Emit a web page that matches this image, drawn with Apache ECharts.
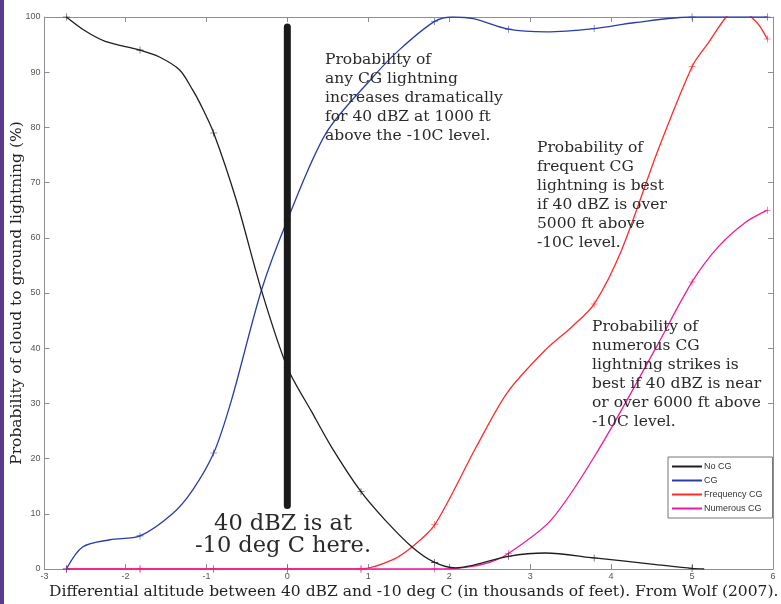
<!DOCTYPE html>
<html>
<head>
<meta charset="utf-8">
<script src="https://cdn.jsdelivr.net/npm/echarts@6/dist/echarts.min.js"></script>
<style>
html,body{margin:0;padding:0;background:#fff;}
#chart{width:781px;height:604px;}
</style>
</head>
<body>
<div id="chart"></div>
<script>
// ---- data (x in thousands of feet, y in %) ----
const seriesNames = ['No CG', 'CG', 'Frequency CG', 'Numerous CG'];

const noCgX = [-2.73, -2.5, -2.25, -1.82, -1.58, -1.33, -1.17, -1.08, -0.91, -0.63, -0.32, 0, 0.3, 0.55, 0.91, 1.2, 1.54, 1.82, 2.08, 2.73, 3.19, 3.79, 4.5, 5.0, 5.15];
const noCgY = [100, 97.5, 95.6, 94, 92.75, 90.4, 86.8, 84.4, 79, 66.8, 50.5, 36.5, 28.5, 22, 14, 9, 4, 1.2, 0.2, 2.3, 2.9, 2.0, 0.9, 0.1, 0];

const cgX = [-2.73, -2.53, -2.19, -1.82, -1.42, -1.17, -0.91, -0.69, -0.32, 0, 0.48, 1.05, 1.38, 1.82, 2.05, 2.3, 2.73, 3.2, 3.79, 4.3, 5.0, 5.93];
const cgY = [0, 4, 5.3, 6, 10, 14.3, 21, 30.6, 50.5, 63.2, 79, 89, 94, 99.2, 100, 99.7, 97.8, 97.3, 97.9, 99, 100, 100];

const freqX = [-2.73, -1.82, -0.91, 0, 0.91, 1.29, 1.54, 1.82, 2.33, 2.72, 3.19, 3.51, 3.79, 4.13, 4.58, 5.0, 5.16, 5.57, 5.8, 5.93];
const freqY = [0, 0, 0, 0, 0, 1.6, 4, 8, 22, 32, 39.7, 43.8, 48, 57.8, 75.9, 91, 94.5, 101.5, 99, 96];

const numX = [-2.73, -1.82, -0.91, 0, 0.91, 1.82, 2.2, 2.5, 2.73, 3.26, 3.84, 4.54, 5.0, 5.32, 5.65, 5.93];
const numY = [0, 0, 0, 0, 0, 0, 0.3, 1.2, 2.8, 8.9, 21.5, 39.7, 52, 58.3, 62.7, 65];

// x positions where '+' markers are drawn
const markX = [-2.73, -1.82, -0.91, 0, 0.91, 1.82, 2.73, 3.79, 5.0, 5.93];

// thick reference line at 0 (40 dBZ at -10 C)
const refLineX = [0, 0];
const refLineY = [11.5, 98.2];

const xMin = -3, xMax = 6, xStep = 1;
const yMin = 0, yMax = 100, yStep = 10;

const colors = ['#1e1e1e', '#2a3ca8', '#ff2a2a', '#f01a9a'];

const annotations = [
  {text: 'Probability of\nany CG lightning\nincreases dramatically\nfor 40 dBZ at 1000 ft\nabove the -10C level.', x: 325, y: 50},
  {text: 'Probability of\nfrequent CG\nlightning is best\nif 40 dBZ is over\n5000 ft above\n-10C level.', x: 537, y: 138},
  {text: 'Probability of\nnumerous CG\nlightning strikes is\nbest if 40 dBZ is near\nor over 6000 ft above\n-10C level.', x: 592, y: 317}
];
const bigNote = '40 dBZ is at\n-10 deg C here.';

// ---- build ----
const plus = 'path://M0,4.6L10,4.6L10,5.4L0,5.4Z M4.6,0L5.4,0L5.4,10L4.6,10Z';
function build(xs, ys) {
  return xs.map((x, i) => {
    const marked = markX.some(m => Math.abs(m - x) < 1e-6);
    return marked ? {value: [x, ys[i]]} : {value: [x, ys[i]], symbol: 'none'};
  });
}
const rawData = [[noCgX, noCgY], [cgX, cgY], [freqX, freqY], [numX, numY]];
const order = [2, 3, 1, 0]; // draw order: red, magenta, blue, black
const series = order.map(k => ({
  name: seriesNames[k],
  type: 'line',
  data: build(rawData[k][0], rawData[k][1]),
  smooth: 0.3,
  symbol: plus,
  symbolSize: 7,
  showSymbol: true,
  lineStyle: {color: colors[k], width: 1.3},
  itemStyle: {color: colors[k], borderWidth: 0},
  clip: true,
  z: 3,
  emphasis: {disabled: true},
  animation: false
}));
series.push({
  name: 'ref',
  type: 'line',
  data: refLineX.map((x, i) => [x, refLineY[i]]),
  symbol: 'none',
  lineStyle: {color: '#1a1a1a', width: 7, cap: 'round'},
  z: 4,
  silent: true,
  animation: false
});

const chart = echarts.init(document.getElementById('chart'), null, {renderer: 'canvas'});
const axisCol = '#8c8f96';
const serif = '"DejaVu Serif", "Liberation Serif", serif';
const sans = '"Liberation Sans", Arial, sans-serif';

const graphics = [
  {type: 'rect', shape: {x: 0, y: 0, width: 4, height: 604}, style: {fill: '#5a3a8a'}, silent: true}
];
annotations.forEach(a => graphics.push({
  type: 'text', left: a.x, top: a.y, z: 10,
  style: {text: a.text, font: '15.5px ' + serif, fill: '#2a2a2a', lineHeight: 19}
}));
graphics.push({
  type: 'text', x: 283, y: 513, z: 10,
  style: {text: bigNote, font: '22.5px ' + serif, fill: '#2a2a2a', lineHeight: 22, align: 'center'}
});

const axisBase = {
  type: 'value',
  axisLine: {show: true, onZero: false, lineStyle: {color: axisCol, width: 1}},
  axisTick: {show: true, inside: true, length: 5, lineStyle: {color: axisCol}},
  splitLine: {show: false}
};

chart.setOption({
  backgroundColor: '#fff',
  animation: false,
  grid: {left: 44.5, right: 8, top: 17, bottom: 35, containLabel: false, outerBoundsMode: 'none'},
  legend: {
    data: seriesNames,
    orient: 'vertical',
    left: 668, top: 457,
    padding: [5, 10, 5, 4],
    itemGap: 5,
    itemWidth: 30,
    itemHeight: 2,
    icon: 'rect',
    borderColor: '#777',
    borderWidth: 1,
    borderRadius: 0,
    backgroundColor: '#fff',
    textStyle: {fontFamily: sans, fontSize: 9, color: '#333', padding: [0, 0, 0, -3]},
    selectedMode: false
  },
  xAxis: [Object.assign({}, axisBase, {
    min: xMin, max: xMax, interval: xStep,
    position: 'bottom',
    name: 'Differential altitude between 40 dBZ and -10 deg C (in thousands of feet). From Wolf (2007).',
    nameLocation: 'middle', nameGap: 15, nameMoveOverlap: false,
    nameTextStyle: {fontFamily: serif, fontSize: 15.5, color: '#222', padding: [0, 0, 0, 10], verticalAlign: 'top'},
    axisLabel: {fontFamily: sans, fontSize: 9, color: '#555', margin: 3}
  }), Object.assign({}, axisBase, {
    min: xMin, max: xMax, interval: xStep,
    position: 'top',
    axisLabel: {show: false}
  })],
  yAxis: [Object.assign({}, axisBase, {
    min: yMin, max: yMax, interval: yStep,
    position: 'left',
    name: 'Probability of cloud to ground lightning (%)',
    nameLocation: 'middle', nameGap: 20, nameMoveOverlap: false,
    nameTextStyle: {fontFamily: serif, fontSize: 15.5, color: '#222'},
    axisLabel: {fontFamily: sans, fontSize: 9, color: '#555', margin: 4}
  }), Object.assign({}, axisBase, {
    min: yMin, max: yMax, interval: yStep,
    position: 'right',
    axisLabel: {show: false}
  })],
  series: series,
  graphic: graphics
});
</script>
</body>
</html>
